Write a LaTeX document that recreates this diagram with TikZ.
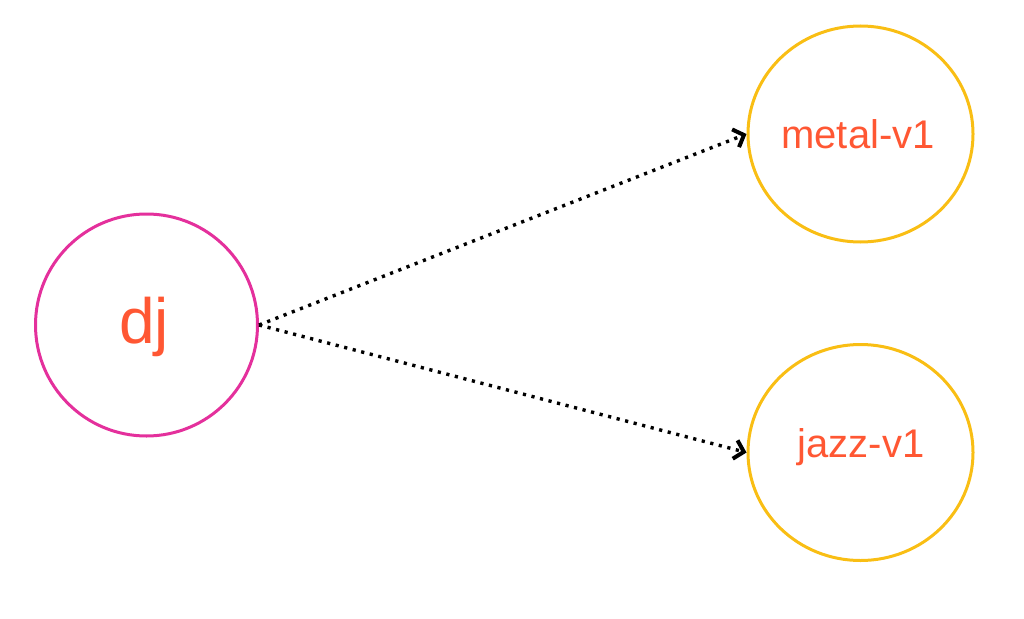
\documentclass[tikz,border=0pt]{standalone}
\usepackage{fontspec}
\setmainfont{Liberation Sans}
\usetikzlibrary{shapes.geometric,arrows.meta}
\definecolor{txt}{HTML}{FF5733}
\definecolor{pinkc}{HTML}{E4309C}
\definecolor{yell}{HTML}{F9BE14}
\tikzset{
  x=1pt, y=-1pt,
  djnode/.style={draw=pinkc, line width=3pt, circle, minimum size=222pt, inner sep=0pt},
  vnode/.style={draw=yell, line width=3pt, ellipse, minimum width=225pt, minimum height=216pt, inner sep=0pt},
  lbl/.style={text=txt, anchor=base, inner sep=0pt},
  conn/.style={line width=3.4pt, dash pattern=on 3.2pt off 5.6pt, -{Straight Barb[length=9pt,width=19pt,line width=4pt]}}
}
\begin{document}
\begin{tikzpicture}
\useasboundingbox (0,0) rectangle (1024,618);
\node[djnode] (dj) at (146.5,325) {};
\node[vnode] (metal) at (860.5,134) {};
\node[vnode] (jazz) at (860.5,452.5) {};
\node[lbl, font=\fontsize{64}{70}\selectfont] (djt) at (144,343) {dj};
\node[lbl, font=\fontsize{40}{46}\selectfont] (metalt) at (858,148) {metal-v1};
\node[lbl, font=\fontsize{40}{46}\selectfont] (jazzt) at (861,457) {jazz-v1};
\draw[conn] (dj.east) -- (metal.west);
\draw[conn] (dj.east) -- (jazz.west);
\end{tikzpicture}
\end{document}
